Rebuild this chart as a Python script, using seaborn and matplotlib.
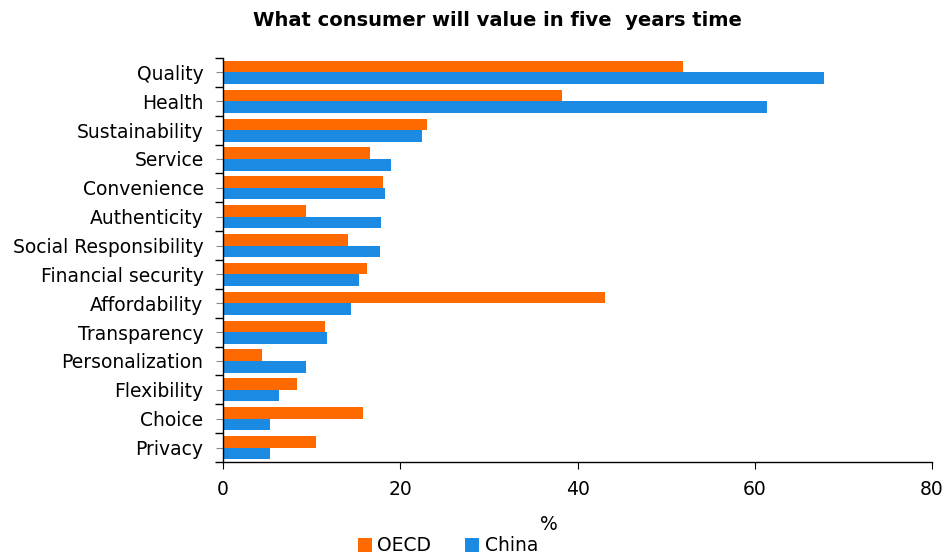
import matplotlib
matplotlib.use("Agg")
import matplotlib.pyplot as plt
import seaborn as sns
import pandas as pd
import numpy as np

categories = ["Quality", "Health", "Sustainability", "Service", "Convenience",
              "Authenticity", "Social Responsibility", "Financial security",
              "Affordability", "Transparency", "Personalization", "Flexibility",
              "Choice", "Privacy"]
oecd = [51.9, 38.3, 23.0, 16.6, 18.1, 9.4, 14.1, 16.2, 43.1, 11.5, 4.4, 8.3, 15.8, 10.5]
china = [67.8, 61.4, 22.4, 18.9, 18.3, 17.8, 17.7, 15.4, 14.4, 11.7, 9.4, 6.3, 5.3, 5.3]
series = ["OECD", "China"]
colors = ["#ff6a00", "#1a8ae3"]
title = "What consumer will value in five  years time"
xlabel = "%"
xticks = [0, 20, 40, 60, 80]

df = pd.DataFrame({
    "category": categories * 2,
    "value": oecd + china,
    "series": [series[0]] * len(categories) + [series[1]] * len(categories),
})

sns.set_style("white")
plt.rcParams["font.family"] = ["DejaVu Sans"]
plt.rcParams["text.color"] = "black"
plt.rcParams["xtick.color"] = "black"
plt.rcParams["ytick.color"] = "black"
plt.rcParams["axes.labelcolor"] = "black"

fig = plt.figure(figsize=(9.46, 5.56), dpi=100)
ax = fig.add_axes([223 / 946, 1 - 462 / 556, (932 - 223) / 946, (462 - 58) / 556])

sns.barplot(data=df, y="category", x="value", hue="series", order=categories,
            hue_order=series, palette=colors, orient="h", width=0.8,
            saturation=1, linewidth=0, ax=ax, legend=True)

ax.set_xlim(0, 80)
ax.set_ylim(len(categories) - 0.5, -0.5)
ax.set_xticks(xticks)
ax.set_xticklabels([str(t) for t in xticks], fontsize=13.5)
ax.set_ylabel("")
ax.set_xlabel(xlabel, fontsize=13.5)
ax.xaxis.set_label_coords((549 - 223) / (932 - 223), -0.13)
ax.tick_params(axis="y", which="major", left=True, labelsize=13.5, length=5,
               color="#888888", labelcolor="black", direction="out", pad=9)
ax.set_yticks(np.arange(-0.5, len(categories), 1), minor=True)
ax.tick_params(axis="y", which="minor", left=True, length=6, color="black",
               direction="out", width=1)
ax.tick_params(axis="x", bottom=True, length=5, color="black", labelcolor="black",
               direction="out", pad=8)

for s in ["top", "right"]:
    ax.spines[s].set_visible(False)
for s in ["left", "bottom"]:
    ax.spines[s].set_color("black")
    ax.spines[s].set_linewidth(1)

leg = ax.legend(loc="lower center", bbox_to_anchor=(448 / 946, -0.012), bbox_transform=fig.transFigure,
                ncol=2, frameon=False, fontsize=13.5, handlelength=0.75, handleheight=0.75,
                handletextpad=0.3, columnspacing=1.8, borderaxespad=0.0)

fig.text(497 / 946, 1 - 20 / 556, title, ha="center", va="center", fontsize=14,
         fontweight="bold")

fig.savefig("out.png", dpi=100)
